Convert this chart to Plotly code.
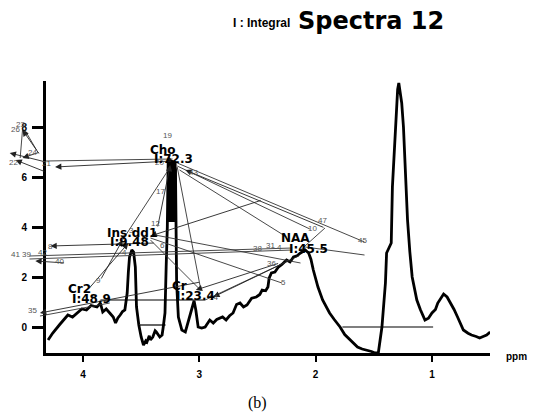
import plotly.graph_objects as go

W, H = 537, 420
OFF = 8  # page body margin of the html page

# ---------------- spectrum (ppm, intensity) ----------------
ppm = [4.30, 4.26, 4.20, 4.13, 4.09, 4.05, 4.01, 3.97, 3.93, 3.88, 3.85, 3.83, 3.80, 3.77, 3.74, 3.72,
       3.70, 3.68, 3.66, 3.64, 3.62, 3.61, 3.60, 3.58, 3.565, 3.55, 3.54, 3.52, 3.50, 3.48, 3.46, 3.45,
       3.43, 3.42, 3.40, 3.38, 3.37, 3.34, 3.32, 3.31, 3.295, 3.285, 3.275, 3.268, 3.255, 3.24, 3.22,
       3.205, 3.20, 3.195, 3.18, 3.15, 3.12, 3.10, 3.07, 3.055, 3.045, 3.03, 3.01, 2.98, 2.95, 2.91,
       2.88, 2.85, 2.82, 2.80, 2.77, 2.74, 2.71, 2.68, 2.65, 2.62, 2.59, 2.55, 2.51, 2.48, 2.46, 2.43,
       2.41, 2.40, 2.38, 2.35, 2.32, 2.29, 2.25, 2.22, 2.19, 2.16, 2.13, 2.09, 2.06, 2.04, 2.02, 1.98,
       1.94, 1.90, 1.88, 1.84, 1.79, 1.75, 1.72, 1.68, 1.64, 1.60, 1.56, 1.52, 1.49, 1.46, 1.43, 1.41,
       1.40, 1.39, 1.37, 1.35, 1.34, 1.31, 1.295, 1.285, 1.275, 1.26, 1.245, 1.23, 1.21, 1.19, 1.17,
       1.13, 1.10, 1.06, 1.03, 1.00, 0.97, 0.95, 0.92, 0.90, 0.87, 0.84, 0.81, 0.78, 0.75, 0.73, 0.69,
       0.66, 0.62, 0.59, 0.56, 0.53, 0.50]
intensity = [-0.52, -0.24, 0.10, 0.48, 0.40, 0.56, 0.72, 0.68, 0.86, 0.80, 0.95, 0.60, 0.72, 0.56, 0.40, 0.16,
             0.36, 0.48, 0.62, 0.68, 1.36, 2.2, 2.8, 3.08, 3.0, 2.4, 0.8, 0.08, -0.4, -0.72, -0.55, -0.6,
             -0.35, -0.52, -0.4, -0.15, -0.2, -0.4, -0.32, 0.0, 0.56, 2.4, 4.0, 6.6, 6.7, 6.6, 6.5,
             6.3, 4.0, 1.76, 0.4, -0.12, -0.2, 0.16, 0.6, 0.9, 1.05, 0.68, 0.0, -0.04, 0.0, 0.28,
             0.16, 0.3, 0.36, 0.40, 0.28, 0.45, 0.56, 0.9, 0.96, 0.8, 0.88, 1.15, 1.2, 1.3, 1.48, 1.45,
             1.6, 1.95, 2.16, 2.2, 2.4, 2.5, 2.68, 2.6, 2.8, 2.85, 2.96, 3.08, 2.96, 2.7, 2.28, 1.6,
             1.08, 0.75, 0.56, 0.3, 0.0, -0.3, -0.44, -0.65, -0.8, -0.88, -0.92, -0.98, -1.04, -1.0, 0.0, 1.2,
             1.76, 2.96, 3.2, 3.36, 5.6, 8.28, 9.5, 9.76, 9.4, 8.96, 8.0, 6.28, 4.28, 3.0, 2.0,
             1.08, 0.7, 0.28, 0.35, 0.56, 0.7, 0.96, 1.2, 1.32, 1.2, 0.96, 0.7, 0.4, 0.1, -0.12, -0.25,
             -0.32, -0.38, -0.44, -0.38, -0.32, -0.2]

# solid (overplotted) part of the choline peak
cho_ppm = [3.27, 3.27, 3.255, 3.20, 3.20, 3.215, 3.215]
cho_val = [4.2, 6.55, 6.7, 6.6, 4.4, 4.2, 4.2]

# baseline / integral segments
base_ppm = [[3.51, 3.29], [1.77, 0.99], [3.85, 2.95]]
base_val = [[0.08, 0.08], [0.0, 0.0], [1.08, 1.08]]

# ---------------- annotation clutter (ppm, intensity) ----------------
seg_x0 = [4.52, 4.52, 4.50, 4.52, 4.63, 4.58, 4.32, 4.24, 3.19, 3.19, 3.12, 3.17, 3.19, 3.25, 3.25,
          3.42, 4.46, 4.46, 4.28, 4.41, 3.42, 3.38, 3.03, 2.95, 2.88, 4.37, 4.37, 3.66, 3.61, 2.13,
          2.09, 3.42]
seg_y0 = [7.88, 7.88, 7.88, 6.76, 6.96, 6.68, 6.64, 6.40, 6.56, 6.44, 6.28, 6.28, 6.40, 6.48, 6.40,
          3.64, 2.84, 2.72, 3.24, 2.64, 3.56, 3.68, 1.48, 1.08, 1.20, 0.56, 0.44, 3.48, 3.36, 3.08,
          3.20, 3.48]
seg_x1 = [4.54, 4.37, 4.40, 4.37, 4.32, 4.32, 3.23, 3.23, 1.58, 2.05, 1.92, 2.25, 2.99, 3.36, 3.66,
          2.46, 2.20, 2.20, 3.38, 4.15, 2.29, 2.13, 2.31, 2.22, 2.13, 2.99, 3.77, 3.85, 3.96, 1.92,
          1.58, 2.99]
seg_y1 = [6.76, 6.88, 7.08, 7.00, 6.60, 6.20, 6.72, 6.64, 3.40, 3.92, 3.96, 3.60, 1.56, 3.96, 3.48,
          5.08, 3.16, 3.08, 3.36, 2.56, 1.76, 2.56, 2.56, 2.68, 2.88, 1.80, 0.96, 1.88, 1.48, 3.96,
          2.88, 1.48]
# which segments carry an arrow head at their first point
seg_arrow = [0, 1, 0, 1, 1, 1, 0, 1, 0, 0, 1, 0, 0, 1, 0,
             1, 0, 0, 1, 1, 0, 0, 1, 0, 1, 1, 0, 1, 1, 0,
             0, 0]

num_labels = ["19", "20", "17", "12", "3", "6", "4", "8", "41", "39", "42", "40", "9", "35", "38",
              "31", "4", "36", "5", "43", "47", "45", "10", "21", "22", "25", "23", "26", "24", "14"]
num_x = [3.27, 3.34, 3.33, 3.38, 3.58, 3.32, 3.64, 4.28, 4.58, 4.49, 4.35, 4.20, 3.87, 4.43, 2.50,
         2.39, 2.31, 2.38, 2.28, 3.05, 1.94, 1.60, 2.03, 4.31, 4.60, 4.65, 4.54, 4.58, 4.43, 2.88]
num_y = [7.68, 6.60, 5.44, 4.16, 3.88, 3.28, 3.00, 3.24, 2.92, 2.92, 3.00, 2.64, 1.88, 0.68, 3.16,
         3.28, 3.20, 2.56, 1.80, 6.20, 4.28, 3.48, 3.96, 6.56, 6.60, 7.00, 8.12, 7.92, 7.00, 1.20]

peak_labels = ["Cho", "I:72.3", "Ins.dd1", "I:9.48", "Cr2", "I:48.9", "Cr", "I:23.4", "NAA", "I:45.5"]
peak_x = [3.31, 3.22, 3.58, 3.60, 4.03, 3.93, 3.17, 3.03, 2.17, 2.06]
peak_y = [7.08, 6.72, 3.76, 3.40, 1.52, 1.12, 1.64, 1.24, 3.56, 3.12]

x_ticks = [4, 3, 2, 1]
y_ticks = [0, 2, 4, 6, 8]

# ---------------- geometry (reference pixels shifted by page margin) ----------------
def px(v):
    return (v - OFF) / W


def py(v):
    return 1 - (v - OFF) / H


XR = [4.318, 0.501]
YR = [-1.04, 9.84]
XR2 = [4 + (83 - OFF) / 116.33, 4 - (W + OFF - 83) / 116.33]
YR2 = [(327 - H - OFF) / 25.0, (327 - OFF) / 25.0]

fig = go.Figure()

fig.add_trace(go.Scatter(x=cho_ppm, y=cho_val, mode="lines", fill="toself", fillcolor="black",
                         line=dict(color="black", width=1), hoverinfo="skip", xaxis="x", yaxis="y"))
for bx, by in zip(base_ppm, base_val):
    fig.add_trace(go.Scatter(x=bx, y=by, mode="lines", line=dict(color="black", width=1.2),
                             hoverinfo="skip", xaxis="x", yaxis="y"))
fig.add_trace(go.Scatter(x=ppm, y=intensity, mode="lines", line=dict(color="black", width=2.8),
                         hoverinfo="skip", xaxis="x", yaxis="y"))

# plain clutter lines (no arrow) in overlay axes
lx, ly = [], []
for i in range(len(seg_x0)):
    if not seg_arrow[i]:
        lx += [seg_x0[i], seg_x1[i], None]
        ly += [seg_y0[i], seg_y1[i], None]
fig.add_trace(go.Scatter(x=lx, y=ly, mode="lines", line=dict(color="#333333", width=0.9),
                         hoverinfo="skip", xaxis="x2", yaxis="y2"))

annotations = []
for i in range(len(seg_x0)):
    if seg_arrow[i]:
        annotations.append(dict(x=seg_x0[i], y=seg_y0[i], ax=seg_x1[i], ay=seg_y1[i],
                                xref="x2", yref="y2", axref="x2", ayref="y2", text="",
                                showarrow=True, arrowhead=2, arrowsize=1.4, arrowwidth=0.9,
                                arrowcolor="#222222"))
for t, x, y in zip(num_labels, num_x, num_y):
    annotations.append(dict(x=x, y=y, xref="x2", yref="y2", text=t, showarrow=False,
                            font=dict(family="Arial", size=8, color="#555555")))
for t, x, y in zip(peak_labels, peak_x, peak_y):
    annotations.append(dict(x=x, y=y, xref="x2", yref="y2", text=t, showarrow=False,
                            font=dict(family="DejaVu Sans", size=12, color="black", weight="bold")))

annotations += [
    dict(x=px(371), y=py(21), xref="paper", yref="paper", text="Spectra 12", showarrow=False,
         xanchor="center", yanchor="middle",
         font=dict(family="DejaVu Sans", size=24, color="black", weight="bold")),
    dict(x=px(261.5), y=py(23), xref="paper", yref="paper", text="I : Integral", showarrow=False,
         xanchor="center", yanchor="middle",
         font=dict(family="Arial", size=12, color="black", weight="bold")),
    dict(x=px(257), y=py(403), xref="paper", yref="paper", text="(b)", showarrow=False,
         xanchor="center", yanchor="middle",
         font=dict(family="Liberation Serif", size=16, color="black")),
    dict(x=px(516), y=py(356), xref="paper", yref="paper", text="ppm", showarrow=False,
         xanchor="center", yanchor="middle",
         font=dict(family="Arial", size=10, color="black", weight="bold")),
]

fig.update_layout(
    width=W, height=H, margin=dict(l=0, r=0, t=0, b=0),
    paper_bgcolor="white", plot_bgcolor="rgba(0,0,0,0)", showlegend=False,
    xaxis=dict(domain=[px(46), px(490)], range=XR, tickvals=x_ticks, ticktext=[str(v) for v in x_ticks],
               ticks="outside", ticklen=6, tickwidth=2, tickcolor="black", showline=True, linewidth=3,
               linecolor="black", showgrid=False, zeroline=False, anchor="y", ticklabelstandoff=4,
               tickfont=dict(family="Arial", size=10, color="black", weight="bold")),
    yaxis=dict(domain=[py(353), py(81)], range=YR, tickvals=y_ticks,
               ticktext=[str(v) for v in y_ticks],
               ticks="outside", ticklen=11, tickwidth=2.5, tickcolor="black", showline=True, linewidth=3,
               linecolor="black", showgrid=False, zeroline=False, anchor="x", ticklabelstandoff=3,
               tickfont=dict(family="Arial", size=10, color="black", weight="bold")),
    xaxis2=dict(domain=[0, 1], range=XR2, visible=False, anchor="y2"),
    yaxis2=dict(domain=[0, 1], range=YR2, visible=False, anchor="x2"),
    annotations=annotations,
)

fig.write_html("out.html")
